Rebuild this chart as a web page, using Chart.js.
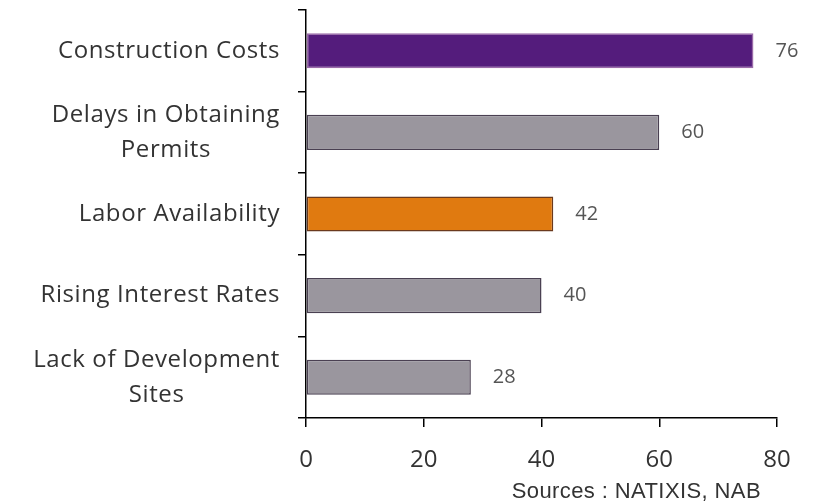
<!DOCTYPE html>
<html>
<head>
<meta charset="utf-8">
<script src="https://cdn.jsdelivr.net/npm/chart.js@4/dist/chart.umd.min.js"></script>
<style>
    html, body { margin: 0; padding: 0; background: #ffffff; }
    #wrap { width: 830px; height: 503px; position: relative; }
</style>
</head>
<body>
<div id="wrap"><canvas id="grafico"></canvas></div>
<script>
const categorias = [
    ["Construction Costs"],
    ["Delays in Obtaining", "Permits"],
    ["Labor Availability"],
    ["Rising Interest Rates"],
    ["Lack of Development", "Sites"]
];
const valores = [76, 60, 42, 40, 28];
const coresBarras = ["#541c7c", "#9a969e", "#e07a10", "#9a969e", "#9a969e"];
const coresBorda = ["#9a6aa8", "#4a4052", "#6a3a1e", "#4a4052", "#4a4052"];
const fonte = "'Open Sans', sans-serif";

// rotulos das categorias: linhas centradas entre si, bloco alinhado a direita
const rotulosCategorias = {
    id: "rotulosCategorias",
    afterDraw(chart) {
        const ctx = chart.ctx;
        const escala = chart.scales.y;
        const direita = escala.right - 26;
        const alturaLinha = 35;
        ctx.save();
        ctx.fillStyle = "#333333";
        ctx.font = "24px " + fonte;
        ctx.letterSpacing = "0.6px";
        ctx.textAlign = "center";
        ctx.textBaseline = "middle";
        chart.data.labels.forEach((linhas, i) => {
            const yc = escala.getPixelForTick(i);
            const largura = Math.max(...linhas.map(l => ctx.measureText(l).width));
            const xc = direita - largura / 2;
            linhas.forEach((linha, j) => {
                const y = yc + (j - (linhas.length - 1) / 2) * alturaLinha;
                ctx.fillText(linha, xc, y);
            });
        });
        ctx.restore();
    }
};

const rotulosValores = {
    id: "rotulosValores",
    afterDatasetsDraw(chart) {
        const ctx = chart.ctx;
        const meta = chart.getDatasetMeta(0);
        ctx.save();
        ctx.fillStyle = "#555555";
        ctx.font = "20px " + fonte;
        ctx.textAlign = "left";
        ctx.textBaseline = "middle";
        meta.data.forEach((barra, i) => {
            ctx.fillText(String(valores[i]), barra.x + 22, barra.y);
        });
        ctx.restore();
    }
};

const fonteTexto = {
    id: "fonteTexto",
    afterDraw(chart) {
        const ctx = chart.ctx;
        ctx.save();
        ctx.fillStyle = "#333333";
        ctx.font = "22px 'Liberation Sans', Arial, sans-serif";
        ctx.letterSpacing = "0.4px";
        ctx.textAlign = "right";
        ctx.textBaseline = "middle";
        ctx.fillText("Sources : NATIXIS, NAB", chart.chartArea.right - 16, 492);
        ctx.restore();
    }
};

new Chart(document.getElementById("grafico"), {
    type: "bar",
    data: {
        labels: categorias,
        datasets: [
            {
                data: valores,
                backgroundColor: coresBarras,
                borderColor: coresBorda,
                borderWidth: 1.5,
                borderSkipped: false,
                barPercentage: 0.43,
                categoryPercentage: 1
            }
        ]
    },
    options: {
        indexAxis: "y",
        responsive: true,
        maintainAspectRatio: false,
        animation: false,
        layout: {
            padding: { top: 10, right: 53, left: 0, bottom: 0 }
        },
        plugins: {
            legend: { display: false },
            tooltip: { enabled: false }
        },
        scales: {
            x: {
                min: 0,
                max: 80,
                ticks: {
                    stepSize: 20,
                    color: "#333333",
                    padding: 19,
                    font: { family: fonte, size: 24 }
                },
                grid: {
                    drawOnChartArea: false,
                    color: "#000000",
                    tickLength: 9,
                    lineWidth: 1.5
                },
                border: { color: "#000000", width: 1.5 },
                afterFit(scale) {
                    scale.height = 85;
                    scale.paddingLeft = 0;
                    scale.paddingRight = 0;
                }
            },
            y: {
                ticks: { display: false },
                grid: {
                    drawOnChartArea: false,
                    color: "#000000",
                    tickLength: 8,
                    lineWidth: 1.5
                },
                border: { color: "#000000", width: 1.5 },
                afterFit(scale) {
                    scale.width = 306;
                    scale.paddingTop = 0;
                    scale.paddingBottom = 0;
                }
            }
        }
    },
    plugins: [rotulosCategorias, rotulosValores, fonteTexto]
});
</script>
</body>
</html>
